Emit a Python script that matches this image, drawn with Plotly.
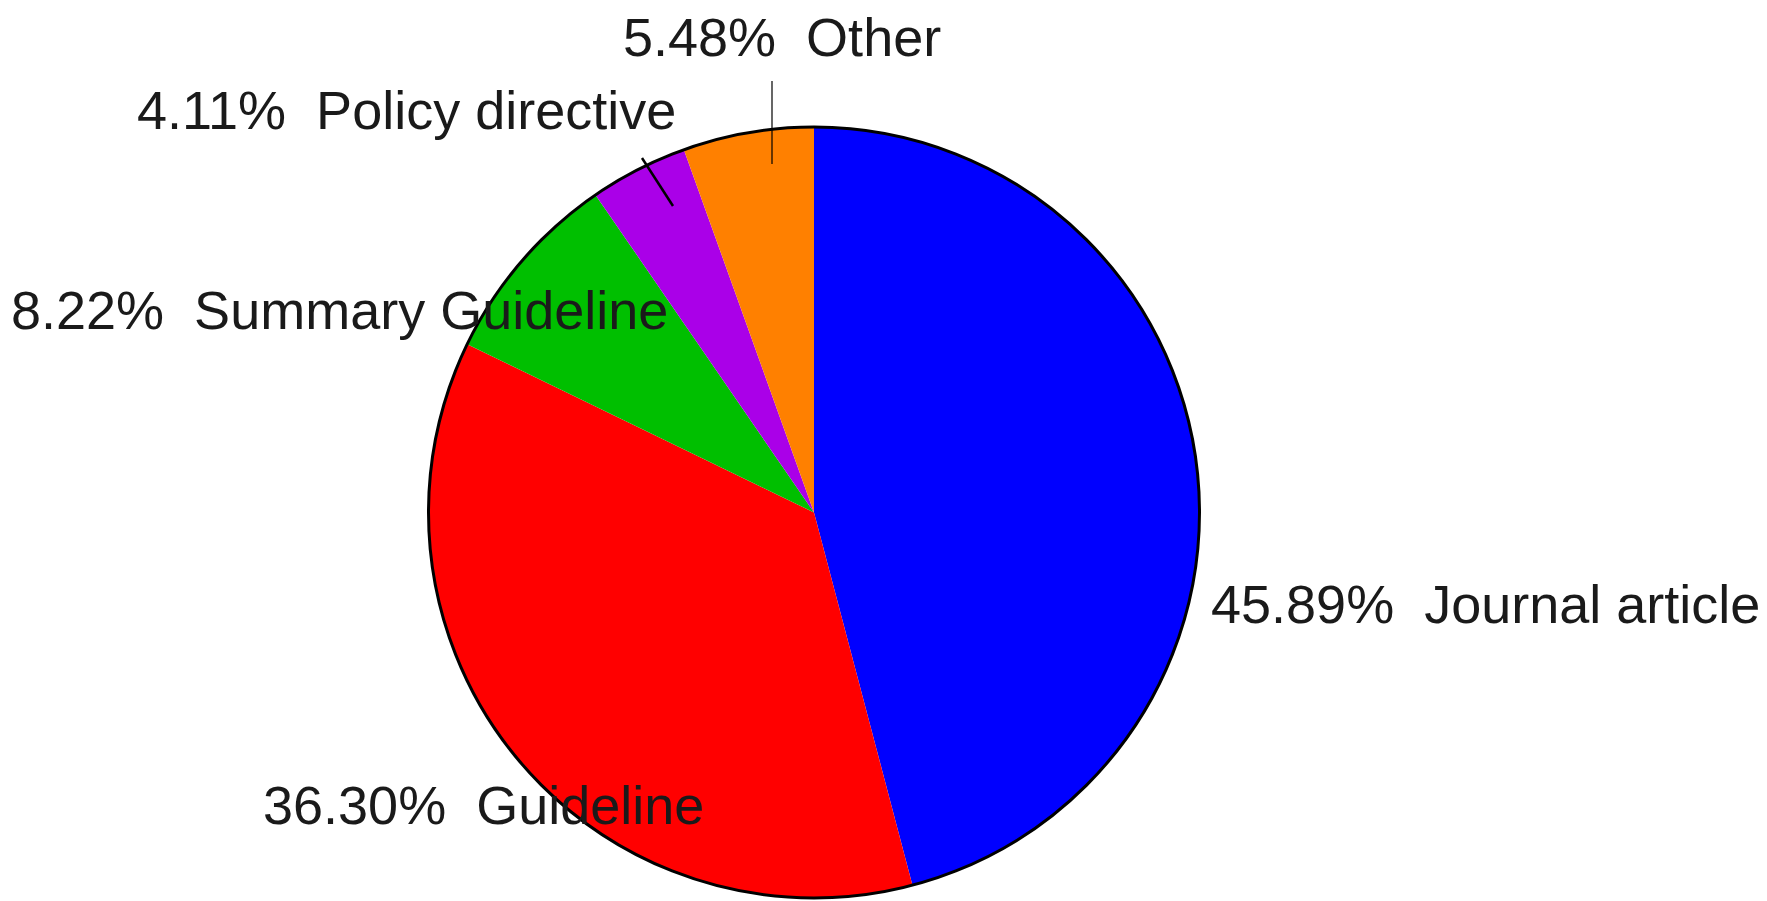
import plotly.graph_objects as go

# slice data, clockwise from 12 o'clock
labels = ['Journal article', 'Guideline', 'Summary Guideline', 'Policy directive', 'Other']
values = [45.89, 36.30, 8.22, 4.11, 5.48]
colors = ['#0000FF', '#FF0000', '#00BF00', '#AA00E8', '#FF8000']

W, H = 1767, 901

# label anchor (left edge, vertical centre) in pixels
label_pos = [(1209, 604), (261, 805), (9, 310), (135, 110), (621, 37)]
# leader lines in pixels, with width
leaders = [None, None, None, ((642, 158), (673, 206), 2.5), ((772, 81), (772, 164), 1.2)]

fig = go.Figure()

dom = dict(x=[428 / W, 1200 / W], y=[1 - 898 / H, 1 - 127 / H])

fig.add_trace(go.Pie(
    labels=labels, values=values, sort=False, direction='clockwise', rotation=0,
    marker=dict(colors=colors, line=dict(width=0)),
    textinfo='none', showlegend=False, domain=dom,
))
# outer black ring only (no radial edges)
fig.add_trace(go.Pie(
    values=[1], sort=False, textinfo='none', showlegend=False, hoverinfo='skip',
    marker=dict(colors=['rgba(0,0,0,0)'], line=dict(color='black', width=3)),
    domain=dom,
))

for lab, v, (px, py) in zip(labels, values, label_pos):
    fig.add_annotation(
        x=px / W, y=1 - py / H, xref='paper', yref='paper',
        xanchor='left', yanchor='middle', showarrow=False,
        text=f'{v:.2f}%  {lab}',
        font=dict(family='Liberation Sans, Arial', size=54, color='#1a1a1a'),
    )

for ln in leaders:
    if ln is None:
        continue
    (x0, y0), (x1, y1), lw = ln
    fig.add_shape(type='line', xref='paper', yref='paper',
                  x0=x0 / W, y0=1 - y0 / H, x1=x1 / W, y1=1 - y1 / H,
                  line=dict(color='black', width=lw))

fig.update_layout(
    width=W, height=H,
    margin=dict(l=0, r=0, t=0, b=0),
    paper_bgcolor='white', plot_bgcolor='white',
)

fig.write_html("out.html", config={'displayModeBar': False},
               post_script="document.body.style.margin='0';")
